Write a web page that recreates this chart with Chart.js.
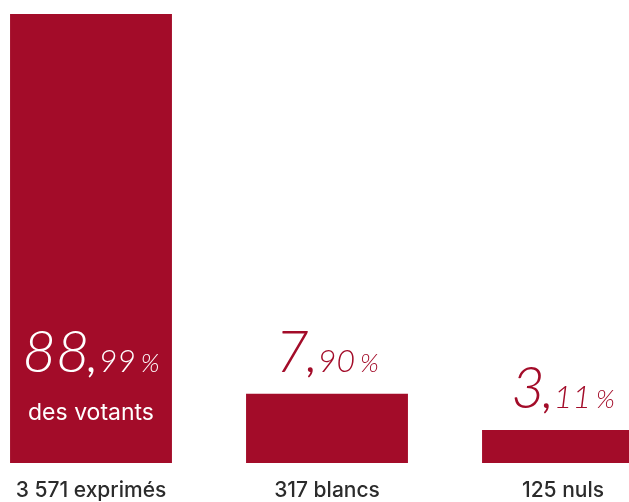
<!DOCTYPE html>
<html>
<head>
<meta charset="utf-8">
<script src="https://cdn.jsdelivr.net/npm/chart.js@4"></script>
<style>
  html, body { margin: 0; padding: 0; background: #fff; overflow: hidden; }
  #wrap { position: absolute; left: -27px; top: 0; width: 708px; height: 502px; }
</style>
</head>
<body>
<div id="wrap"><canvas id="chartVotes"></canvas></div>
<script>
// categories and values
const categories = ['exprimés', 'blancs', 'nuls'];
const counts = ['3 571', '317', '125'];
const pctInt = ['88', '7', '3'];
const pctDec = ['99', '90', '11'];
// visual bar heights (tallest = 100), as drawn in the picture
const barHeights = [100, 15.4, 7.35];

const red = '#a30c29';

const labelsPlugin = {
  id: 'voteLabels',
  afterDatasetsDraw(chart) {
    const ctx = chart.ctx;
    const meta = chart.getDatasetMeta(0);
    meta.data.forEach((bar, i) => {
      const x = bar.x;
      const inside = i === 0;
      const baseline = inside ? bar.base - 91 : bar.y - 22;
      const color = inside ? '#ffffff' : red;

      // percentage: big integer, smaller decimals, small %
      const fBig = 'italic 300 58px Lato';
      const fCom = 'italic 400 40px Lato';
      const fDec = 'italic 300 32px Lato';
      const fPct = 'italic 300 26px Lato';
      ctx.save();
      ctx.fillStyle = color;
      ctx.textBaseline = 'alphabetic';
      ctx.textAlign = 'left';
      ctx.font = fBig; const w1 = ctx.measureText(pctInt[i]).width;
      ctx.font = fCom; const wc = ctx.measureText(',').width;
      ctx.font = fDec; const w2 = ctx.measureText(pctDec[i]).width;
      ctx.font = fPct; const w3 = ctx.measureText('%').width;
      const gap = 5;
      let cx = x - (w1 + wc + w2 + gap + w3) / 2;
      ctx.font = fBig; ctx.fillText(pctInt[i], cx, baseline); cx += w1;
      ctx.font = fCom; ctx.fillText(',', cx - 2, baseline); cx += wc;
      ctx.font = fDec; ctx.fillText(pctDec[i], cx, baseline); cx += w2 + gap;
      ctx.font = fPct; ctx.fillText('%', cx, baseline);

      if (inside) {
        ctx.textAlign = 'center';
        ctx.font = '400 23px Inter';
        ctx.fillText('des votants', x, bar.base - 43);
      }

      // count under the bar
      ctx.textAlign = 'center';
      ctx.fillStyle = '#2b2b2b';
      ctx.font = '500 21px Inter';
      ctx.fillText(counts[i] + ' ' + categories[i], x, bar.base + 34);
      ctx.restore();
    });
  }
};

new Chart(document.getElementById('chartVotes'), {
  type: 'bar',
  data: {
    labels: categories,
    datasets: [{
      data: barHeights,
      backgroundColor: red,
      borderWidth: 0,
      categoryPercentage: 1,
      barPercentage: 0.686
    }]
  },
  options: {
    responsive: true,
    maintainAspectRatio: false,
    animation: false,
    layout: { padding: { top: 14, bottom: 39, left: 0, right: 0 } },
    plugins: {
      legend: { display: false },
      tooltip: { enabled: false }
    },
    scales: {
      x: { display: false },
      y: { display: false, min: 0, max: 100 }
    }
  },
  plugins: [labelsPlugin]
});
</script>
</body>
</html>
